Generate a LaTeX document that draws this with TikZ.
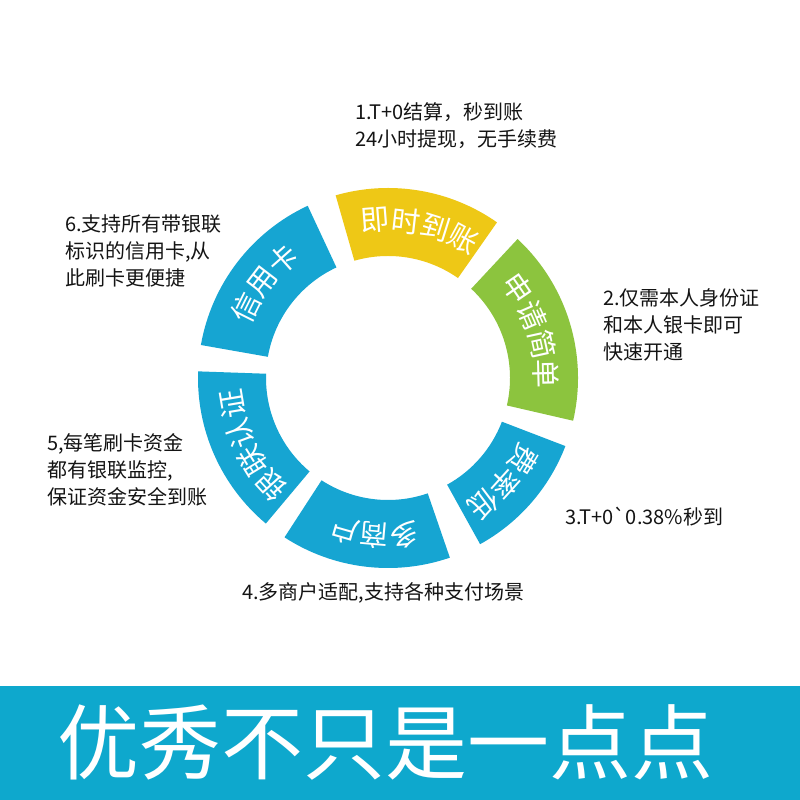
\documentclass[tikz,border=0pt]{standalone}
\usepackage{fontspec}
\setmainfont{Noto Sans CJK SC}
\usepackage{tikz}
\definecolor{segblue}{RGB}{22,165,210}
\definecolor{segyellow}{RGB}{238,200,22}
\definecolor{seggreen}{RGB}{140,196,62}
\definecolor{bannerblue}{RGB}{14,168,205}
\definecolor{tiptext}{RGB}{20,20,20}

\begin{document}
\begin{tikzpicture}[x=1pt, y=1pt, every node/.style={inner sep=0pt, font=\fontsize{20}{27}\selectfont},
    tip/.style={align=left, anchor=west, text=tiptext},
    seglabel/.style={text=white, font=\fontsize{29}{29}\selectfont}]
    \useasboundingbox (0,0) rectangle (800,800);
    \fill[white] (0,0) rectangle (800,800);

    \begin{scope}[shift={(388,422)}]
      \foreach \a/\b/\col in {55/106/segyellow, -13/47/seggreen, -61/-21/segblue, -123/-71/segblue, 178/230/segblue, 115/170/segblue}
        \fill[\col] (\a:190) arc[start angle=\a, end angle=\b, radius=190] -- (\b:122) arc[start angle=\b, end angle=\a, radius=122] -- cycle;
      \foreach \m/\n/\word [count=\k] in {78/4/{即,时,到,账}, 18/4/{申,请,简,单}, -42/3/{费,率,低}, -95/3/{多,商,户}, 206/4/{银,联,认,证}, 142.5/3/{信,用,卡}}
        \foreach \ch [count=\i] in \word {
          \pgfmathsetmacro\ang{\m+(\n-1)*5.5-(\i-1)*11}
          \node[seglabel, rotate=\ang-90] (seg\k-\i) at (\ang:158) {\ch};
        }
    \end{scope}

    \node[tip] (tip1) at (355,674) {1.T+0结算，秒到账\\24小时提现，无手续费};
    \node[tip] (tip2) at (603,475) {2.仅需本人身份证\\和本人银卡即可\\快速开通};
    \node[tip] (tip3) at (565,283) {3.T+0\textasciigrave 0.38\%秒到};
    \node[tip] (tip4) at (242,207) {4.多商户适配,支持各种支付场景};
    \node[tip] (tip5) at (47,330) {5,每笔刷卡资金\\都有银联监控,\\保证资金安全到账};
    \node[tip] (tip6) at (65,549) {6.支持所有带银联\\标识的信用卡,从\\此刷卡更便捷};

    \fill[bannerblue] (0,0) rectangle (800,114);
    \node[text=white, font=\fontsize{82}{82}\selectfont] (slogan) at (385,58) {优秀不只是一点点};
  \end{tikzpicture}
\end{document}
